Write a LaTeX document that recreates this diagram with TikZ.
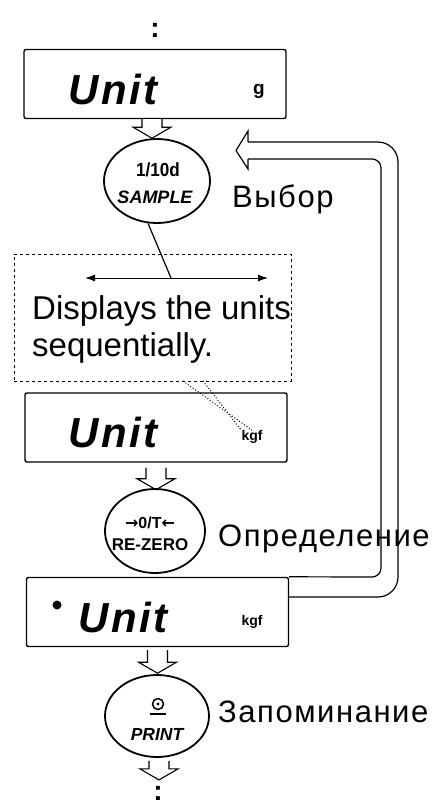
\documentclass[tikz,border=0pt]{standalone}
\usepackage{fontspec}
\setmainfont{Liberation Sans}
\newfontfamily\symfont{DejaVu Sans}
\usetikzlibrary{arrows.meta,calc,shapes.geometric}
\tikzset{
  disp/.style={draw, line width=1.4pt, rounded corners=2pt, minimum width=262pt, minimum height=69pt, inner sep=0pt},
  key/.style={draw, ellipse, line width=1.8pt, inner sep=0pt},
  lcd/.style={font=\fontsize{42}{42}\selectfont\bfseries\itshape\addfontfeature{LetterSpace=6}, inner sep=0pt, anchor=base west},
  unitmark/.style={font=\fontsize{14}{14}\selectfont\bfseries, inner sep=0pt},
  lab/.style={font=\fontsize{31}{31}\selectfont\addfontfeature{LetterSpace=5}, inner sep=0pt, anchor=base west},
  bigtxt/.style={font=\fontsize{33}{33}\selectfont, inner sep=0pt, anchor=base west},
  keytxt/.style={font=\fontsize{19}{19}\selectfont\bfseries, inner sep=0pt},
  dots/.style={font=\fontsize{28}{28}\selectfont\bfseries, inner sep=0pt},
  loopline/.style={line width=1.2pt},
  harrow/.pic={\draw[line width=1.1pt, fill=white] (-10,0) -- (-10,#1) -- (-19,#1) -- (0,#1+11) -- (19,#1) -- (10,#1) -- (10,0);},
}
\begin{document}
\begin{tikzpicture}[x=1pt,y=-1pt]
\useasboundingbox (0,0) rectangle (435,807);
% top continuation
\node[dots] (top) at (155,30) {:};
% display 1
\node[disp] (d1) at (155,84) {};
\node[lcd] (u1) at (68,104) {Unit};
\node[unitmark, font=\fontsize{19}{19}\selectfont\bfseries] (g1) at (259,91) {g};
\pic at ($(d1.south)+(-3,0)$) {harrow=8};
% key 1
\node[key, minimum width=106pt, minimum height=84pt] (e1) at (157,181) {};
\node[keytxt, xscale=0.9] (k1a) at (158,170) {1/10d};
\node[keytxt, font=\fontsize{18}{18}\selectfont\bfseries\itshape] (k1b) at (155,197) {SAMPLE};
\node[lab] (l1) at (232,207) {Выбор};
% dashed box
\node[draw, dashed, line width=0.9pt, minimum width=277pt, minimum height=127pt, inner sep=0pt] (db) at (152.5,317.5) {};
\coordinate (al) at (85,278);
\coordinate (ar) at (268,278);
\coordinate (ac) at (171,278);
\draw[line width=1pt, {Latex[length=10pt,width=7pt]}-{Latex[length=10pt,width=7pt]}] (al) -- (ar);
\draw[line width=1.2pt] (e1.258) -- (ac);
\node[bigtxt] (t1) at (32,319) {Displays the units};
\node[bigtxt] (t2) at (32,356) {sequentially.};
% display 2
\node[disp] (d2) at (156,427.5) {};
\node[lcd] (u2) at (68,447) {Unit};
\node[unitmark] (kg2) at (252,437) {kgf};
\coordinate (dA) at (183,381);
\coordinate (dB) at (203,381);
\draw[dotted, line width=1pt] (dA) -- (kg2.north);
\draw[dotted, line width=1pt] (dB) -- (kg2.north west);
\pic at ($(d2.south)+(0,5)$) {harrow=11};
% key 2
\node[key, minimum width=100pt, minimum height=84pt] (e2) at (155,531) {};
\node[keytxt, font=\fontsize{16}{16}\selectfont\bfseries] (k2a) at (150,523) {{\symfont\bfseries →}0/T{\symfont\bfseries ←}};
\node[keytxt, font=\fontsize{17}{17}\selectfont\bfseries] (k2b) at (150,545) {RE-ZERO};
\node[lab] (l2) at (218,546) {Определение};
% display 3
\node[disp] (d3) at (157.5,612) {};
\node[circle, fill, minimum size=9pt, inner sep=0pt] (st) at (57,605) {};
\node[lcd] (u3) at (78,632) {Unit};
\node[unitmark] (kg3) at (252,622) {kgf};
\pic at ($(d3.south)+(0,3)$) {harrow=12};
% loop back
\draw[loopline, rounded corners=9pt] (d3.north east) -- (381,577) -- (381,159) -- (248,159);
\draw[loopline, rounded corners=20pt] ($(d3.east)+(0,-15)$) -- (398,597) -- (398,142) -- (248,142);
\draw[loopline] (248,159) -- (248,169) -- (236,150.5) -- (248,131) -- (248,142);
% key 3
\node[key, minimum width=104pt, minimum height=82pt] (e3) at (157,716) {};
\draw[line width=1.5pt] (158,704) circle (5.5);
\fill (158,704) circle (1.6);
\draw[line width=1.5pt] (150,714) -- (166,714);
\node[keytxt, font=\fontsize{17.5}{17.5}\selectfont\bfseries\itshape] (k3) at (157,734) {PRINT};
\node[lab] (l3) at (218,722) {Запоминание};
\pic at ($(e3.south)+(2,3)$) {harrow=8};
% bottom continuation
\node[dots] (bot) at (158,793) {:};
\end{tikzpicture}
\end{document}
